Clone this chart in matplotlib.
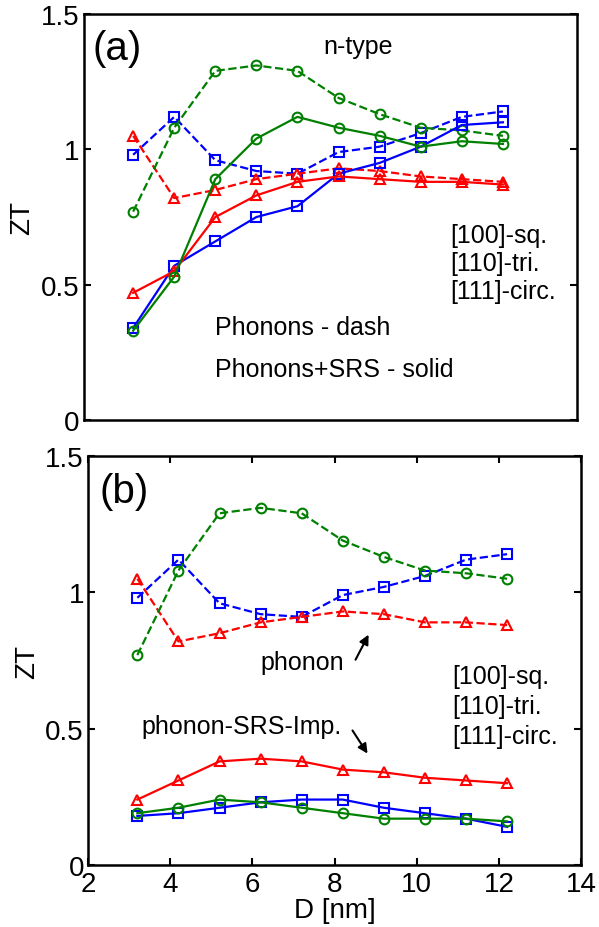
import numpy as np
import matplotlib
matplotlib.use('Agg')
import matplotlib.pyplot as plt

plt.rcParams['font.family'] = ['Liberation Sans', 'DejaVu Sans']

# Diameter D [nm]
D = [3.2, 4.2, 5.2, 6.2, 7.2, 8.2, 9.2, 10.2, 11.2, 12.2]

# Panel (a): phonons only (dashed)
a_sq_ph = [0.98, 1.12, 0.96, 0.92, 0.91, 0.99, 1.01, 1.06, 1.12, 1.14]
a_tri_ph = [1.05, 0.82, 0.85, 0.89, 0.91, 0.93, 0.92, 0.90, 0.89, 0.88]
a_circ_ph = [0.77, 1.08, 1.29, 1.31, 1.29, 1.19, 1.13, 1.08, 1.07, 1.05]
# Panel (a): phonons + SRS (solid)
a_sq_srs = [0.34, 0.57, 0.66, 0.75, 0.79, 0.91, 0.95, 1.01, 1.09, 1.10]
a_tri_srs = [0.47, 0.55, 0.75, 0.83, 0.88, 0.90, 0.89, 0.88, 0.88, 0.87]
a_circ_srs = [0.33, 0.53, 0.89, 1.04, 1.12, 1.08, 1.05, 1.01, 1.03, 1.02]

# Panel (b): phonon (dashed)
b_sq_ph = [0.98, 1.12, 0.96, 0.92, 0.91, 0.99, 1.02, 1.06, 1.12, 1.14]
b_tri_ph = [1.05, 0.82, 0.85, 0.89, 0.91, 0.93, 0.92, 0.89, 0.89, 0.88]
b_circ_ph = [0.77, 1.08, 1.29, 1.31, 1.29, 1.19, 1.13, 1.08, 1.07, 1.05]
# Panel (b): phonon-SRS-Imp. (solid)
b_sq_imp = [0.18, 0.19, 0.21, 0.23, 0.24, 0.24, 0.21, 0.19, 0.17, 0.14]
b_tri_imp = [0.24, 0.31, 0.38, 0.39, 0.38, 0.35, 0.34, 0.32, 0.31, 0.30]
b_circ_imp = [0.19, 0.21, 0.24, 0.23, 0.21, 0.19, 0.17, 0.17, 0.17, 0.16]

blue = (0, 0, 1)
green = (0, 0.5, 0)
red = (1, 0, 0)

fig = plt.figure(figsize=(5.99, 9.28), dpi=100)
ax1 = fig.add_axes([0.140, 0.5463, 0.823, 0.4375])
ax2 = fig.add_axes([0.147, 0.0668, 0.823, 0.4407])

kw = dict(linewidth=1.6, markersize=7, markerfacecolor='none', markeredgewidth=1.5)

def draw(ax, sq, tri, circ, ls):
    ax.plot(D, sq, ls, color=blue, marker='s', **kw)
    ax.plot(D, tri, ls, color=red, marker='^', **kw)
    ax.plot(D, circ, ls, color=green, marker='o', **kw)

draw(ax1, a_sq_ph, a_tri_ph, a_circ_ph, '--')
draw(ax1, a_sq_srs, a_tri_srs, a_circ_srs, '-')
draw(ax2, b_sq_ph, b_tri_ph, b_circ_ph, '--')
draw(ax2, b_sq_imp, b_tri_imp, b_circ_imp, '-')

for ax in (ax1, ax2):
    ax.set_xlim(2, 14)
    ax.set_ylim(0, 1.5)
    ax.set_yticks([0, 0.5, 1, 1.5])
    ax.set_yticklabels(['0', '0.5', '1', '1.5'])
    ax.tick_params(direction='in', length=5, width=1.5, labelsize=20,
                   top=True, right=True, pad=3)
    for s in ax.spines.values():
        s.set_linewidth(1.8)
    ax.set_ylabel('ZT', fontsize=20, labelpad=4)

ax1.set_xticks([])
ax2.set_xticks([2, 4, 6, 8, 10, 12, 14])
ax2.tick_params(axis='x', pad=4)
ax2.set_xlabel('D [nm]', fontsize=20, labelpad=0)

fs = 18
# Panel (a) texts
ax1.text(2.22, 1.374, '(a)', fontsize=29, va='center', ha='left')
ax1.text(7.82, 1.381, 'n-type', fontsize=fs, va='center', ha='left')
ax1.text(5.19, 0.344, 'Phonons - dash', fontsize=fs, va='center', ha='left')
ax1.text(5.19, 0.189, 'Phonons+SRS - solid', fontsize=fs, va='center', ha='left')
for y, s in zip([0.685, 0.581, 0.478], ['[100]-sq.', '[110]-tri.', '[111]-circ.']):
    ax1.text(10.93, y, s, fontsize=fs, va='center', ha='left')

# Panel (b) texts
ax2.text(2.29, 1.371, '(b)', fontsize=29, va='center', ha='left')
ax2.text(6.19, 0.744, 'phonon', fontsize=fs, va='center', ha='left')
ax2.annotate('', xy=(8.86, 0.854), xytext=(8.48, 0.744),
             arrowprops=dict(arrowstyle='-|>', color='black', lw=1.5, mutation_scale=14))
ax2.text(3.29, 0.510, 'phonon-SRS-Imp.', fontsize=fs, va='center', ha='left')
ax2.annotate('', xy=(8.84, 0.40), xytext=(8.40, 0.502),
             arrowprops=dict(arrowstyle='-|>', color='black', lw=1.5, mutation_scale=14))
for y, s in zip([0.693, 0.583, 0.473], ['[100]-sq.', '[110]-tri.', '[111]-circ.']):
    ax2.text(10.86, y, s, fontsize=fs, va='center', ha='left')

fig.savefig('out.png', dpi=100)
